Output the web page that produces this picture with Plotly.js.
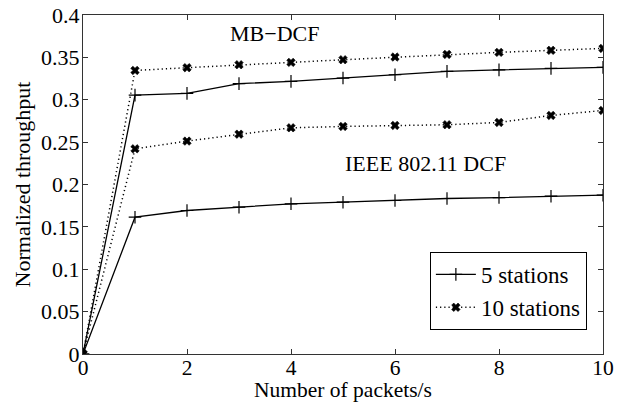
<!DOCTYPE html>
<html>
<head>
<meta charset="utf-8">
<script src="https://cdn.plot.ly/plotly-3.0.1.min.js"></script>
<style>html,body{margin:0;padding:0;background:#fff;}#chart{width:634px;height:403px;}</style>
</head>
<body>
<div id="chart"></div>
<script>
const packetsPerSec = [0, 1, 2, 3, 4, 5, 6, 7, 8, 9, 10];
const mbDcf5 = [0, 0.3055, 0.3075, 0.319, 0.3217, 0.3256, 0.3295, 0.3335, 0.3352, 0.337, 0.3382];
const mbDcf10 = [0, 0.3346, 0.3378, 0.3413, 0.3441, 0.3472, 0.3504, 0.3535, 0.3559, 0.3583, 0.3606];
const dcf5 = [0, 0.1614, 0.1693, 0.1732, 0.1772, 0.1791, 0.1811, 0.1835, 0.1846, 0.1862, 0.1874];
const dcf10 = [0, 0.2421, 0.2512, 0.2594, 0.2669, 0.2685, 0.2697, 0.2705, 0.2732, 0.2815, 0.2874];
const seriesNames = ["5 stations", "10 stations"];
const xTicks = [0, 2, 4, 6, 8, 10];
const yTicks = [0, 0.05, 0.1, 0.15, 0.2, 0.25, 0.3, 0.35, 0.4];
const yTickText = ["0", "0.05", "0.1", "0.15", "0.2", "0.25", "0.3", "0.35", "0.4"];
const xTitle = "Number of packets/s";
const yTitle = "Normalized throughput";
const labels = [
  {text: "MB\u2212DCF", x: 3.69, y: 0.378},
  {text: "IEEE 802.11 DCF", x: 6.59, y: 0.2244}
];

const FONT = "Liberation Serif";
const FS = 22;
const solidStyle = {
  mode: "lines+markers",
  line: {color: "#000", width: 1.3, dash: "solid"},
  marker: {symbol: "cross-thin-open", size: 9, color: "#000", line: {color: "#000", width: 1.2}}
};
const dotStyle = {
  mode: "lines+markers",
  line: {color: "#000", width: 1.5, dash: "1.2px,3px"},
  marker: {symbol: "x", size: 7.5, color: "#000", line: {color: "#000", width: 0.6}}
};

const traces = [
  Object.assign({x: packetsPerSec, y: mbDcf5, name: seriesNames[0], showlegend: true}, solidStyle),
  Object.assign({x: packetsPerSec, y: mbDcf10, name: seriesNames[1], showlegend: true}, dotStyle),
  Object.assign({x: packetsPerSec, y: dcf5, name: seriesNames[0], showlegend: false}, solidStyle),
  Object.assign({x: packetsPerSec, y: dcf10, name: seriesNames[1], showlegend: false}, dotStyle)
];

const annotations = labels.map(l => ({
  text: l.text, x: l.x, y: l.y, xref: "x", yref: "y", showarrow: false,
  font: {family: FONT, size: FS, color: "#000"}
}));
annotations.push({
  text: xTitle, x: 0.5, y: -0.1445, xref: "paper", yref: "paper",
  xanchor: "center", yanchor: "bottom", showarrow: false, borderpad: 0,
  font: {family: FONT, size: 21.5, color: "#000"}
});

const layout = {
  width: 634, height: 403,
  margin: {l: 83, r: 31, t: 15, b: 49},
  paper_bgcolor: "#fff", plot_bgcolor: "#fff",
  font: {family: FONT, size: FS, color: "#000"},
  showlegend: true,
  legend: {
    x: 0.969, y: 0.071, xanchor: "right", yanchor: "bottom",
    bgcolor: "#fff", bordercolor: "#000", borderwidth: 1,
    font: {family: FONT, size: 23, color: "#000"},
    tracegroupgap: 0, itemwidth: 40
  },
  xaxis: {
    range: [0, 10], tickmode: "array", tickvals: xTicks,
    ticks: "inside", ticklen: 5, tickcolor: "#333", mirror: "ticks",
    showline: true, linecolor: "#333", linewidth: 1, showgrid: false, zeroline: false,
    tickfont: {family: FONT, size: 21.5, color: "#000"}, ticklabelstandoff: -6
  },
  yaxis: {
    range: [0, 0.4], tickmode: "array", tickvals: yTicks, ticktext: yTickText,
    ticks: "inside", ticklen: 5, tickcolor: "#333", mirror: "ticks",
    showline: true, linecolor: "#333", linewidth: 1, showgrid: false, zeroline: false,
    tickfont: {family: FONT, size: FS, color: "#000"}, ticklabelstandoff: -2,
    title: {text: yTitle, font: {family: FONT, size: FS, color: "#000"}, standoff: 4}
  },
  annotations: annotations
};

Plotly.newPlot("chart", traces, layout, {staticPlot: true, displayModeBar: false});
</script>
</body>
</html>
